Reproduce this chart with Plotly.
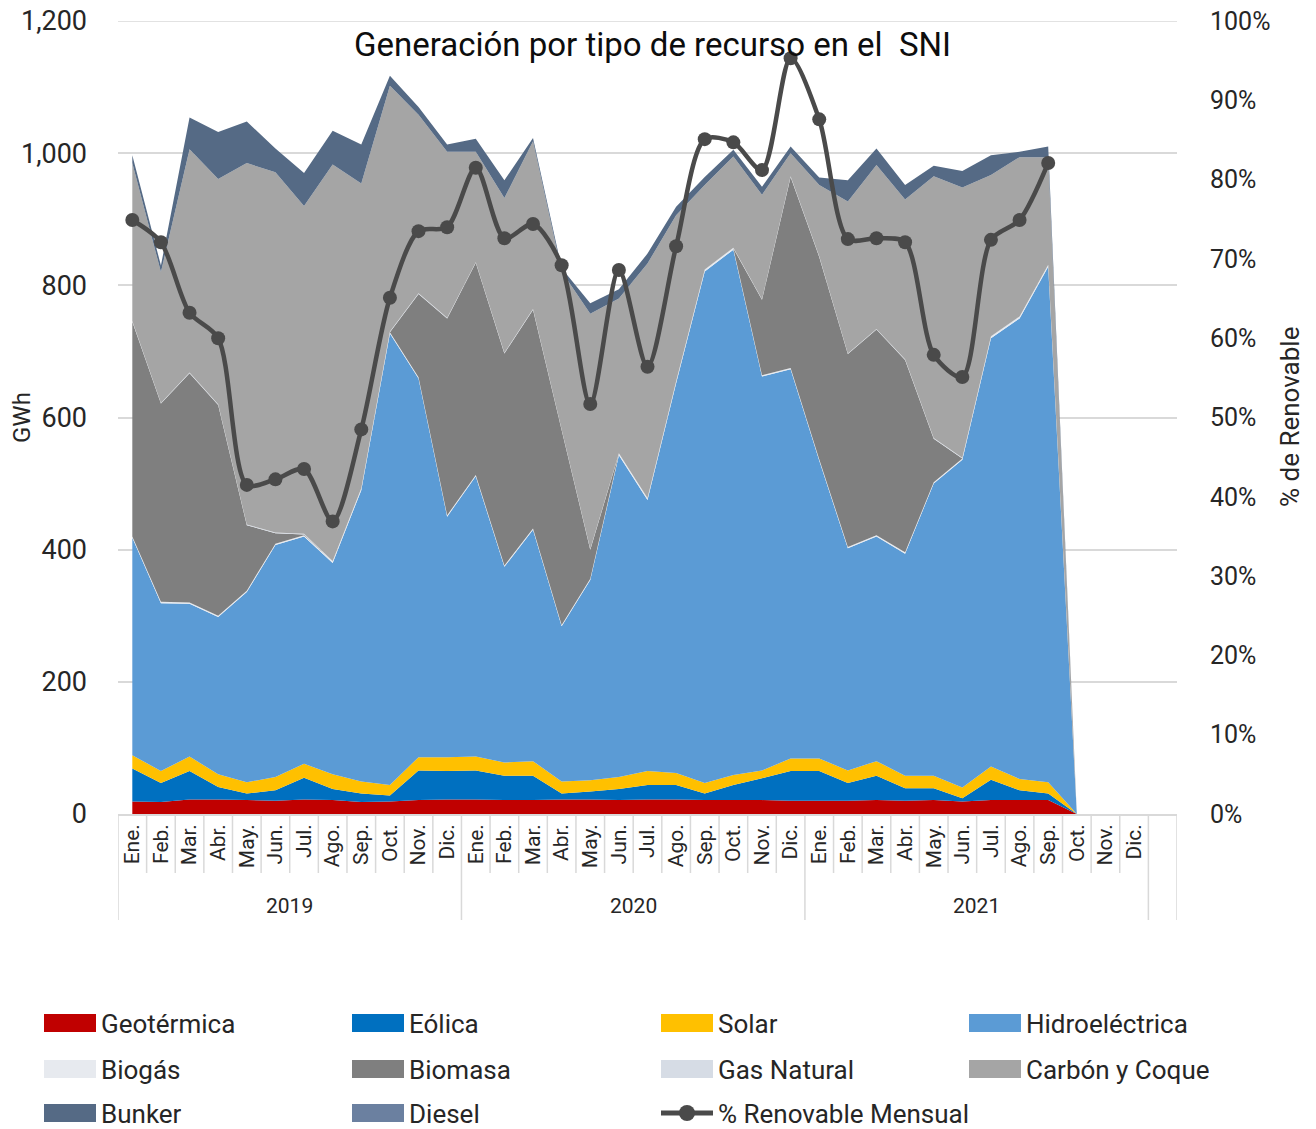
import plotly.graph_objects as go

# ---------------- data ----------------
meses = ["Ene.", "Feb.", "Mar.", "Abr.", "May.", "Jun.", "Jul.", "Ago.", "Sep.", "Oct.", "Nov.", "Dic."]
anios = ["2019", "2020", "2021"]

# GWh per month, Ene-2019 .. Oct-2021 (34 points; Nov/Dic 2021 without data)
geotermica = [19, 18, 22, 22, 21, 20, 22, 21, 18, 19, 21, 22,
              22, 21, 21, 22, 22, 21, 22, 22, 21, 21, 21, 20,
              20, 20, 21, 20, 21, 19, 21, 21, 21, 0]
eolica = [50, 29, 43, 19, 10, 16, 33, 17, 13, 9, 45, 43,
          44, 37, 37, 9, 12, 17, 22, 22, 10, 23, 33, 45,
          45, 27, 37, 19, 18, 5, 31, 15, 10, 0]
solar = [20, 18, 22, 19, 17, 20, 21, 22, 18, 16, 20, 21,
         21, 20, 22, 18, 17, 18, 21, 18, 16, 15, 12, 19,
         19, 19, 22, 19, 19, 16, 20, 17, 17, 0]
hidro = [329, 254, 231, 238, 288, 351, 344, 320, 441, 683, 573, 364,
         424, 296, 350, 235, 303, 487, 410, 590, 774, 795, 596, 589,
         451, 336, 340, 336, 442, 496, 648, 697, 780, 0]
biogas = [2, 2, 2, 2, 2, 2, 2, 2, 2, 2, 2, 2,
          2, 2, 2, 2, 2, 2, 2, 2, 2, 2, 2, 2,
          2, 2, 2, 2, 2, 2, 2, 2, 2, 0]
biomasa = [325, 300, 347, 319, 99, 16, 1, 0, 0, 0, 126, 298,
           321, 321, 331, 295, 44, 0, 0, 0, 0, 0, 114, 289,
           306, 292, 311, 291, 66, 0, 0, 0, 0, 0]
gas_natural = [1, 1, 1, 1, 1, 1, 1, 1, 1, 1, 1, 1,
               1, 1, 1, 1, 1, 1, 1, 1, 1, 1, 1, 1,
               1, 1, 1, 1, 1, 1, 1, 1, 1, 0]
carbon = [239, 198, 338, 341, 547, 545, 496, 600, 461, 372, 270, 251,
          167, 234, 254, 239, 356, 234, 355, 251, 128, 138, 158, 35,
          108, 230, 248, 242, 396, 409, 244, 241, 163, 0]
bunker = [12, 10, 48, 71, 63, 36, 50, 51, 59, 15, 12, 11,
          20, 27, 5, 5, 16, 14, 15, 13, 12, 10, 12, 10,
          11, 32, 25, 22, 16, 25, 30, 8, 16, 0]
diesel = [0] * 34

# % renovable mensual, Ene-2019 .. Sep-2021
renovable = [0.749, 0.721, 0.632, 0.600, 0.415, 0.422, 0.435, 0.369, 0.485, 0.651, 0.735, 0.740,
             0.815, 0.726, 0.744, 0.692, 0.517, 0.686, 0.564, 0.716, 0.851, 0.847, 0.812, 0.953,
             0.876, 0.725, 0.726, 0.721, 0.579, 0.551, 0.724, 0.749, 0.821]

series = [
    ("Geotérmica", geotermica, "#C00000"),
    ("Eólica", eolica, "#0070C0"),
    ("Solar", solar, "#FFC000"),
    ("Hidroeléctrica", hidro, "#5B9BD5"),
    ("Biogás", biogas, "#E7EAEF"),
    ("Biomasa", biomasa, "#7F7F7F"),
    ("Gas Natural", gas_natural, "#D6DCE5"),
    ("Carbón y Coque", carbon, "#A5A5A5"),
    ("Bunker", bunker, "#556A85"),
    ("Diesel", diesel, "#6B80A0"),
]
LINE_COLOR = "#4A4A4A"

# ---------------- geometry helpers ----------------
L, R, T, B = 118, 139, 21, 315
W = 1316 - L - R
H = 1129 - T - B


def px_x(px):
    return (px - L) / W


def px_y(py):
    return (1129 - B - py) / H


FONT = "Roboto"

fig = go.Figure()
n_cat = 37  # 36 months + one empty slot as in the original
x_all = list(range(len(geotermica)))

for name, vals, col in series:
    fig.add_trace(go.Scatter(
        x=x_all, y=vals, name=name, stackgroup="gen", mode="none",
        fillcolor=col, showlegend=False, hoverinfo="x+y+name"))

fig.add_trace(go.Scatter(
    x=list(range(len(renovable))), y=renovable, name="% Renovable Mensual",
    yaxis="y2", mode="lines+markers",
    line=dict(color=LINE_COLOR, width=4.5, shape="spline", smoothing=0.8),
    marker=dict(color=LINE_COLOR, size=14), showlegend=False))

ticktext = meses * 3
fig.update_layout(
    width=1316, height=1129,
    margin=dict(l=L, r=R, t=T, b=B, autoexpand=False),
    paper_bgcolor="white", plot_bgcolor="white",
    font=dict(family=FONT, color="#262626"),
    showlegend=False,
    xaxis=dict(range=[-0.5, n_cat - 0.5], tickvals=list(range(36)), ticktext=ticktext,
               tickangle=-90, tickfont=dict(size=21, color="#262626"),
               showgrid=False, zeroline=False, showline=True, linecolor="#D9D9D9",
               linewidth=1.5, ticks="", automargin=False),
    yaxis=dict(range=[0, 1200], dtick=200, tickformat=",", showgrid=True,
               gridcolor="#D9D9D9", gridwidth=1.5, zeroline=False, automargin=False,
               tickfont=dict(size=27, color="#262626"), ticklabelstandoff=30),
    yaxis2=dict(range=[0, 1], dtick=0.1, tickformat=".0%", overlaying="y", side="right",
                showgrid=False, zeroline=False, automargin=False,
                tickfont=dict(size=25, color="#262626"), ticklabelstandoff=32),
)

shapes = []
annotations = []
# top gridline (1,200)
shapes.append(dict(type="line", xref="paper", yref="y", x0=0, x1=1, y0=1200, y1=1200,
                   line=dict(color="#D9D9D9", width=1.5)))
# category separators
sep_month = px_y(873)
sep_year = px_y(920)
for k in range(n_cat + 1):
    is_year = k in (0, 12, 24, 36, 37)
    shapes.append(dict(type="line", xref="x", yref="paper", x0=k - 0.5, x1=k - 0.5,
                       y0=0, y1=sep_year if is_year else sep_month,
                       line=dict(color="#D9D9D9", width=1.5)))
for i, yr in enumerate(anios):
    annotations.append(dict(xref="x", yref="paper", x=i * 12 + 5.5, y=px_y(906), text=yr,
                            showarrow=False, font=dict(size=21, color="#262626"),
                            xanchor="center", yanchor="middle"))

# title and axis titles
annotations.append(dict(xref="paper", yref="paper", x=px_x(652), y=px_y(45),
                        text="Generación por tipo de recurso en el  SNI", showarrow=False,
                        font=dict(size=33, color="#0D0D0D"), xanchor="center", yanchor="middle"))
annotations.append(dict(xref="paper", yref="paper", x=px_x(22), y=px_y(418), text="GWh",
                        textangle=-90, showarrow=False, font=dict(size=24, color="#262626"),
                        xanchor="center", yanchor="middle"))
annotations.append(dict(xref="paper", yref="paper", x=px_x(1290), y=px_y(417),
                        text="% de Renovable", textangle=-90, showarrow=False,
                        font=dict(size=26, color="#262626"), xanchor="center", yanchor="middle"))

# legend (manual, 4 columns)
col_x = [44, 352, 661, 969]
row_y = [1023, 1069, 1113]
for idx, (name, vals, col) in enumerate(series):
    c, r = idx % 4, idx // 4
    x0 = col_x[c]
    yc = row_y[r]
    shapes.append(dict(type="rect", xref="paper", yref="paper",
                       x0=px_x(x0), x1=px_x(x0 + 52), y0=px_y(yc + 9), y1=px_y(yc - 9),
                       fillcolor=col, line=dict(width=0)))
    annotations.append(dict(xref="paper", yref="paper", x=px_x(x0 + 55), y=px_y(yc + 1),
                            text=name, showarrow=False, xanchor="left", yanchor="middle",
                            height=30, font=dict(size=26, color="#262626")))
# line entry
x0 = col_x[2]
yc = row_y[2]
shapes.append(dict(type="line", xref="paper", yref="paper", x0=px_x(x0), x1=px_x(x0 + 52),
                   y0=px_y(yc), y1=px_y(yc), line=dict(color=LINE_COLOR, width=5)))
shapes.append(dict(type="circle", xref="paper", yref="paper", x0=px_x(x0 + 18), x1=px_x(x0 + 34),
                   y0=px_y(yc + 8), y1=px_y(yc - 8), fillcolor=LINE_COLOR, line=dict(width=0)))
annotations.append(dict(xref="paper", yref="paper", x=px_x(x0 + 55), y=px_y(yc + 1),
                        text="% Renovable Mensual", showarrow=False, xanchor="left",
                        yanchor="middle", height=30, font=dict(size=26, color="#262626")))

fig.update_layout(shapes=shapes, annotations=annotations)

fig.write_html("out.html", config={"displayModeBar": False},
               post_script="document.body.style.margin='0';")
